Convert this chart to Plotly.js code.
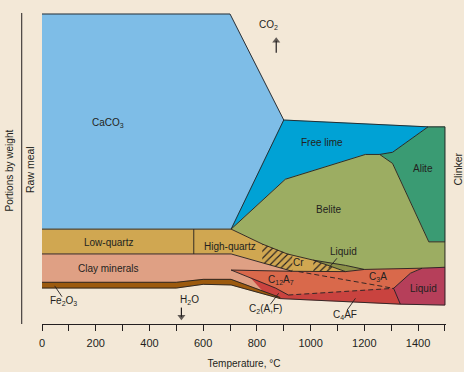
<!DOCTYPE html>
<html><head><meta charset="utf-8">
<script src="https://cdn.plot.ly/plotly-3.0.1.min.js"></script>
<style>html,body{margin:0;padding:0;background:#f3e8d7;}#chart{width:464px;height:372px;}</style>
</head><body><div id="chart"></div>
<script>
// ---- axis ticks (temperature, °C) ----
const labelTicks = [0,200,400,600,800,1000,1200,1400];
const tickLabels = ['0','200','400','600','800','1000','1200','1400'];
const minorTicks = [100,300,500,700,900,1100,1300,1500];

// ---- phase regions: vertices [temperature °C, portion by weight (relative units)] ----
const caco3      = [[0,30.6],[0,100],[700,100],[900,65.8],[704,30.6]];
const freeLime   = [[704,30.6],[900,65.8],[1437,63.6],[1305,55.4],[1257,54.7],[1204,54.7],[906,46.7]];
const alite      = [[1437,63.6],[1500,63.6],[1500,26.5],[1440,26.5],[1305,51.8],[1257,54.7],[1305,55.4]];
const belite     = [[704,30.6],[906,46.7],[1204,54.7],[1257,54.7],[1305,51.8],[1440,26.5],[1500,26.5],[1500,18.3],[1415,18.0],[1200,17.6],[1130,18.9],[1010,20.6],[913,22.6],[820,25.8]];
const quartz     = [[0,30.6],[704,30.6],[820,25.8],[913,22.6],[1010,20.6],[1130,16.9],[932,17.0],[704,22.6],[0,22.6]];
const liquidEarly= [[1010,20.6],[1130,18.9],[1200,17.6],[1130,16.9]];
const clay       = [[0,22.6],[704,22.6],[932,17.0],[704,17.4],[869,11.6],[887,8.55],[704,14.4],[600,14.4],[500,13.45],[0,13.45]];
const aluminate  = [[704,17.4],[932,17.0],[1130,16.9],[1200,17.6],[1415,18.0],[1372,16.4],[1309,11.5],[917,9.35],[869,11.6]];
const ferrite    = [[776,14.9],[869,11.6],[917,9.35],[1309,11.5],[1334,6.4],[887,8.2],[820,10.7]];
const liquidLate = [[1415,18.0],[1500,18.3],[1500,6.1],[1334,6.4],[1309,11.5],[1372,16.4]];
const ironOxide  = [[0,13.45],[500,13.45],[600,14.4],[704,14.4],[887,8.55],[887,8.2],[704,12.6],[600,12.8],[500,11.6],[0,11.6]];
const cristob1   = [[820,25.8],[913,22.6],[932,22.2],[932,17.0],[820,19.75]];
const cristob2   = [[1010,20.6],[1081,18.4],[1081,17.0],[1010,17.0]];

// ---- boundary lines ----
const topEdge     = [[0,100],[700,100],[900,65.8],[1437,63.6],[1500,63.6]];
const caco3Right  = [[900,65.8],[704,30.6]];
const beliteTop   = [[704,30.6],[906,46.7],[1204,54.7],[1257,54.7],[1305,51.8],[1440,26.5],[1500,26.5]];
const limeAlite   = [[1437,63.6],[1305,55.4],[1257,54.7]];
const rightEdge   = [[1500,63.6],[1500,6.1]];
const greenBottom = [[704,30.6],[820,25.8],[913,22.6],[1010,20.6],[1130,18.9],[1200,17.6],[1415,18.0],[1500,18.3]];
const quartzTop   = [[0,30.6],[704,30.6]];
const clayTop     = [[0,22.6],[704,22.6],[932,17.0]];
const quartzSplit = [[565,30.6],[565,22.6]];
const crTop       = [[1010,20.6],[1130,16.9]];
const orangeTop   = [[704,17.4],[932,17.0],[1130,16.9],[1200,17.6]];
const liquidLeft  = [[1415,18.0],[1372,16.4],[1309,11.5],[1334,6.4]];
const redTopSolid = [[704,17.4],[869,11.6],[917,9.35]];
const ironTop     = [[0,13.45],[500,13.45],[600,14.4],[704,14.4],[887,8.55]];
const ironBottom  = [[0,11.6],[500,11.6],[600,12.8],[704,12.6],[887,8.2]];
const baseLine    = [[887,8.2],[1334,6.4],[1500,6.1]];
const redTopDashed= [[917,9.35],[1309,11.5]];
const c3aDashed   = [[955,16.9],[1309,11.5]];

// ---- leader lines ----
const leaderFe   = [[47,12.3],[74.5,8.8]];
const leaderLiq  = [[1098,21.2],[1067,18.0]];
const leaderC2AF = [[850,6.35],[881,9.9]];
const leaderC4AF = [[1136,4.5],[1167,8.3]];

// ---- arrows: [tail, head] ----
const co2Arrow = [[872,87.5],[872,91.4]];
const h2oArrow = [[519,5.3],[519,2.3]];

// ---- region labels [text, T, y] ----
const labelText = ['CaCO<sub>3</sub>','Free lime','Alite','Belite','Low-quartz','High-quartz','Clay minerals',
  'Fe<sub>2</sub>O<sub>3</sub>','H<sub>2</sub>O','CO<sub>2</sub>','Liquid','Cr','C<sub>12</sub>A<sub>7</sub>','C<sub>3</sub>A','Liquid','C<sub>2</sub>(A,F)','C<sub>4</sub>AF'];
const labelT = [247,1043,1420,1066,247,701,247,79,549,843,1122,955,891,1252,1422,832,1129];
const labelY = [65.0,58.4,50.3,37.1,26.45,24.9,17.97,7.4,7.7,96.45,23.5,19.8,14.35,15.2,11.5,4.8,2.9];

const FONT = 'Liberation Sans, Arial, Helvetica, sans-serif';
const INK = '#231f20';
const BG = '#f3e8d7';

const xs = p => p.map(d => d[0]);
const ys = p => p.map(d => d[1]);

function region(pts, color, pattern) {
  const t = {type:'scatter', mode:'lines', x:xs(pts), y:ys(pts), fill:'toself', fillcolor:color,
    line:{color:color, width:0.5}, hoverinfo:'skip'};
  if (pattern) { t.fillpattern = {shape:'/', bgcolor:color, fgcolor:INK, size:5, solidity:0.22}; t.line = {width:0}; }
  return t;
}
function edge(pts, dash, w) {
  return {type:'scatter', mode:'lines', x:xs(pts), y:ys(pts), line:{color:INK, width:w||0.9, dash:dash||'solid'}, hoverinfo:'skip'};
}
function arrow(pts, sym) {
  return {type:'scatter', mode:'lines+markers', x:xs(pts), y:ys(pts), line:{color:INK, width:1.2},
    marker:{symbol:sym, size:[0,7], color:INK, line:{width:0}}, hoverinfo:'skip', cliponaxis:false};
}

const TAN = '#d0a751';
const traces = [
  region(caco3, '#7ebde7'),
  region(freeLime, '#00a2d5'),
  region(alite, '#3a9b73'),
  region(belite, '#9cad62'),
  region(quartz, TAN),
  region(liquidEarly, '#8c9149'),
  region(clay, '#dfa084'),
  region(aluminate, '#d9694b'),
  region(ferrite, '#c9433f'),
  region(liquidLate, '#b63f5a'),
  region(ironOxide, '#9c5a0e'),
  region(cristob1, TAN, true),
  region(cristob2, TAN, true),
];
[topEdge, caco3Right, beliteTop, limeAlite, rightEdge, greenBottom, quartzTop, clayTop, quartzSplit,
 crTop, orangeTop, liquidLeft, redTopSolid, ironTop, ironBottom, baseLine].forEach(p => traces.push(edge(p)));
[redTopDashed, c3aDashed].forEach(p => traces.push(edge(p, '5px,3px')));
[leaderFe, leaderLiq, leaderC2AF, leaderC4AF].forEach(p => traces.push(edge(p, 'solid', 0.9)));
traces.push(arrow(co2Arrow, 'triangle-up'), arrow(h2oArrow, 'triangle-down'));

const annotations = labelText.map((t, i) => ({
  text: t, x: labelT[i], y: labelY[i], xref:'x', yref:'y', showarrow:false,
  font:{family:FONT, size:10, color:INK}, xanchor:'center', yanchor:'middle'
}));
annotations.push(
  {text:'Portions by weight', x:-0.078, y:0.4936, xref:'paper', yref:'paper', showarrow:false, textangle:-90,
   font:{family:FONT, size:10, color:INK}, xanchor:'center', yanchor:'middle'},
  {text:'Raw meal', x:-0.031, y:0.495, xref:'paper', yref:'paper', showarrow:false, textangle:-90,
   font:{family:FONT, size:10.5, color:INK}, xanchor:'center', yanchor:'middle'},
  {text:'Clinker', x:1.0297, y:0.498, xref:'paper', yref:'paper', showarrow:false, textangle:-90,
   font:{family:FONT, size:10.5, color:INK}, xanchor:'center', yanchor:'middle'}
);

const layout = {
  width:464, height:372,
  margin:{l:42, r:18, t:12, b:48, pad:0},
  paper_bgcolor:BG, plot_bgcolor:BG, showlegend:false,
  xaxis:{range:[0,1504], showgrid:false, zeroline:false, showline:true, linecolor:INK, linewidth:1,
    ticks:'outside', ticklen:6, tickwidth:1, tickcolor:INK, tickmode:'array', tickvals:labelTicks, ticktext:tickLabels,
    ticklabelstandoff:3,
    minor:{tickmode:'array', tickvals:minorTicks, ticks:'outside', ticklen:6, tickwidth:1, tickcolor:INK, showgrid:false},
    tickfont:{family:FONT, size:11, color:INK},
    title:{text:'Temperature, °C', font:{family:FONT, size:10, color:INK}, standoff:11}, fixedrange:true},
  yaxis:{range:[0,100.65], visible:false, fixedrange:true},
  shapes:[{type:'line', xref:'paper', yref:'paper', x0:-0.0502, x1:-0.0502, y0:0, y1:0.9968, line:{color:INK, width:1}}],
  annotations: annotations
};
Plotly.newPlot('chart', traces, layout, {staticPlot:true, displayModeBar:false});
</script>
</body></html>
